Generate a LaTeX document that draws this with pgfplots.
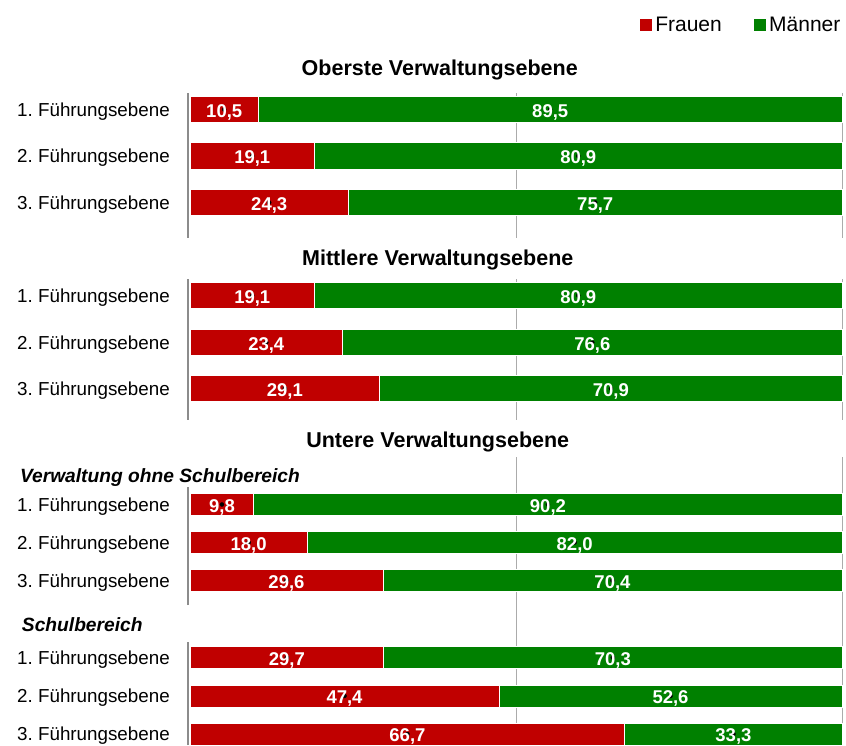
\documentclass[border=0pt]{standalone}
\usepackage{fontspec}
\setmainfont{Liberation Sans}
\usepackage{pgfplots}
\pgfplotsset{compat=1.18}
\usepackage{pgfplotstable}
\frenchspacing

\definecolor{fr}{HTML}{C00000}
\definecolor{mn}{HTML}{008000}
\definecolor{axgray}{HTML}{8C8C8C}
\definecolor{gridgray}{HTML}{ABABAB}

% y = vertical position of each bar (picture units)
\pgfplotstableread{
y F M
635.5 10.5 89.5
589 19.1 80.9
542.5 24.3 75.7
}\oberste
\pgfplotstableread{
y F M
449.5 19.1 80.9
402.5 23.4 76.6
356.5 29.1 70.9
}\mittlere
\pgfplotstableread{
y F M
240.5 9.8 90.2
202.5 18.0 82.0
164.5 29.6 70.4
}\verwaltung
\pgfplotstableread{
y F M
87.5 29.7 70.3
49 47.4 52.6
11 66.7 33.3
}\schule

\newcommand{\lblfont}{\fontsize{18.5}{20}\selectfont}
\newcommand{\tickfont}{\fontsize{18.8}{20}\selectfont}
\newcommand{\ttlfont}{\bfseries\fontsize{21.5}{23}\selectfont}
\newcommand{\subfont}{\bfseries\itshape\fontsize{19.2}{21}\selectfont}

\pgfplotsset{
  mbar/.style={xbar, bar shift=0pt, bar width=#1, fill=mn, draw=white, line width=0.8pt, forget plot},
  fbar/.style={xbar, bar shift=0pt, bar width=#1, fill=fr, draw=white, line width=0.8pt, forget plot},
  vlabels/.style={only marks, mark=*, mark options={draw=none, fill=none}, forget plot,
    nodes near coords={\pgfmathprintnumber[fixed,fixed zerofill,precision=1,use comma,assume math mode=true]{\pgfplotspointmeta}},
    every node near coord/.append style={anchor=base, yshift=-7.6pt, text=white, inner sep=0pt, font=\bfseries\lblfont}},
}

\begin{document}
\begin{tikzpicture}
\path[use as bounding box] (0pt,0pt) rectangle (846pt,745pt);
\begin{axis}[
  at={(190pt,0pt)}, anchor=south west,
  scale only axis, width=652pt, height=685pt,
  xmin=0, xmax=100, ymin=0, ymax=685,
  clip=false,
  axis x line=none, axis y line=left, y axis line style={draw=none},
  ytick={635.5,589,542.5,449.5,402.5,356.5,240.5,202.5,164.5,87.5,49,11},
  yticklabels={1. Führungsebene,2. Führungsebene,3. Führungsebene,
               1. Führungsebene,2. Führungsebene,3. Führungsebene,
               1. Führungsebene,2. Führungsebene,3. Führungsebene,
               1. Führungsebene,2. Führungsebene,3. Führungsebene},
  major tick length=0pt,
  yticklabel style={font=\tickfont, anchor=base east, inner sep=0pt, xshift=-20pt, yshift=-6.8pt},
  legend columns=2,
  legend style={draw=none, fill=none, at={(1.004,1.051)}, anchor=east,
    font=\fontsize{21}{23}\selectfont, inner sep=0pt,
    nodes={inner xsep=4pt},
    /tikz/every even column/.append style={column sep=28pt}},
  legend image code/.code={\fill[#1] (0pt,-5.5pt) rectangle (11pt,5.5pt);},
]
% grid line at 50 and right border at 100
\addplot[gridgray, line width=1pt, unbounded coords=jump, forget plot] coordinates
  {(50,507) (50,652) (50,nan) (50,325) (50,466) (50,nan) (50,0) (50,288)};
\addplot[gridgray, line width=1.5pt, unbounded coords=jump, forget plot] coordinates
  {(100.1,507) (100.1,652) (100.1,nan) (100.1,325) (100.1,466) (100.1,nan) (100.1,0) (100.1,288)};
% left axis segments
\addplot[axgray, line width=2pt, unbounded coords=jump, forget plot] coordinates
  {(-0.26,507) (-0.26,652) (-0.26,nan) (-0.26,325) (-0.26,466) (-0.26,nan)
   (-0.26,140) (-0.26,258) (-0.26,nan) (-0.26,0) (-0.26,103)};

% bars: Männer drawn as full bar, Frauen on top
\addplot[mbar=26.5] table[x expr=\thisrow{F}+\thisrow{M}, y=y] {\oberste};
\addplot[fbar=26.5] table[x=F, y=y] {\oberste};
\addplot[mbar=26.5] table[x expr=\thisrow{F}+\thisrow{M}, y=y] {\mittlere};
\addplot[fbar=26.5] table[x=F, y=y] {\mittlere};
\addplot[mbar=21.5] table[x expr=\thisrow{F}+\thisrow{M}, y=y] {\verwaltung};
\addplot[fbar=21.5] table[x=F, y=y] {\verwaltung};
\addplot[mbar=22] table[x expr=\thisrow{F}+\thisrow{M}, y=y] {\schule};
\addplot[fbar=22] table[x=F, y=y] {\schule};

% value labels
\addplot[vlabels, point meta=\thisrow{F}] table[x expr=\thisrow{F}/2, y=y] {\oberste};
\addplot[vlabels, point meta=\thisrow{M}] table[x expr=\thisrow{F}+\thisrow{M}/2, y=y] {\oberste};
\addplot[vlabels, point meta=\thisrow{F}] table[x expr=\thisrow{F}/2, y=y] {\mittlere};
\addplot[vlabels, point meta=\thisrow{M}] table[x expr=\thisrow{F}+\thisrow{M}/2, y=y] {\mittlere};
\addplot[vlabels, point meta=\thisrow{F}] table[x expr=\thisrow{F}/2, y=y] {\verwaltung};
\addplot[vlabels, point meta=\thisrow{M}] table[x expr=\thisrow{F}+\thisrow{M}/2, y=y] {\verwaltung};
\addplot[vlabels, point meta=\thisrow{F}] table[x expr=\thisrow{F}/2, y=y] {\schule};
\addplot[vlabels, point meta=\thisrow{M}] table[x expr=\thisrow{F}+\thisrow{M}/2, y=y] {\schule};

\addlegendimage{fr}
\addlegendentry{Frauen}
\addlegendimage{mn}
\addlegendentry{Männer}

% section titles
\node[font=\ttlfont] at (axis cs:38.3,675) {Oberste Verwaltungsebene};
\node[font=\ttlfont] at (axis cs:38.0,485) {Mittlere Verwaltungsebene};
\node[font=\ttlfont] at (axis cs:38.0,303) {Untere Verwaltungsebene};
\node[font=\subfont, anchor=west, inner sep=0pt] at (axis cs:-26.1,267) {Verwaltung ohne Schulbereich};
\node[font=\subfont, anchor=west, inner sep=0pt] at (axis cs:-25.8,120) {Schulbereich};
\end{axis}
\end{tikzpicture}
\end{document}
